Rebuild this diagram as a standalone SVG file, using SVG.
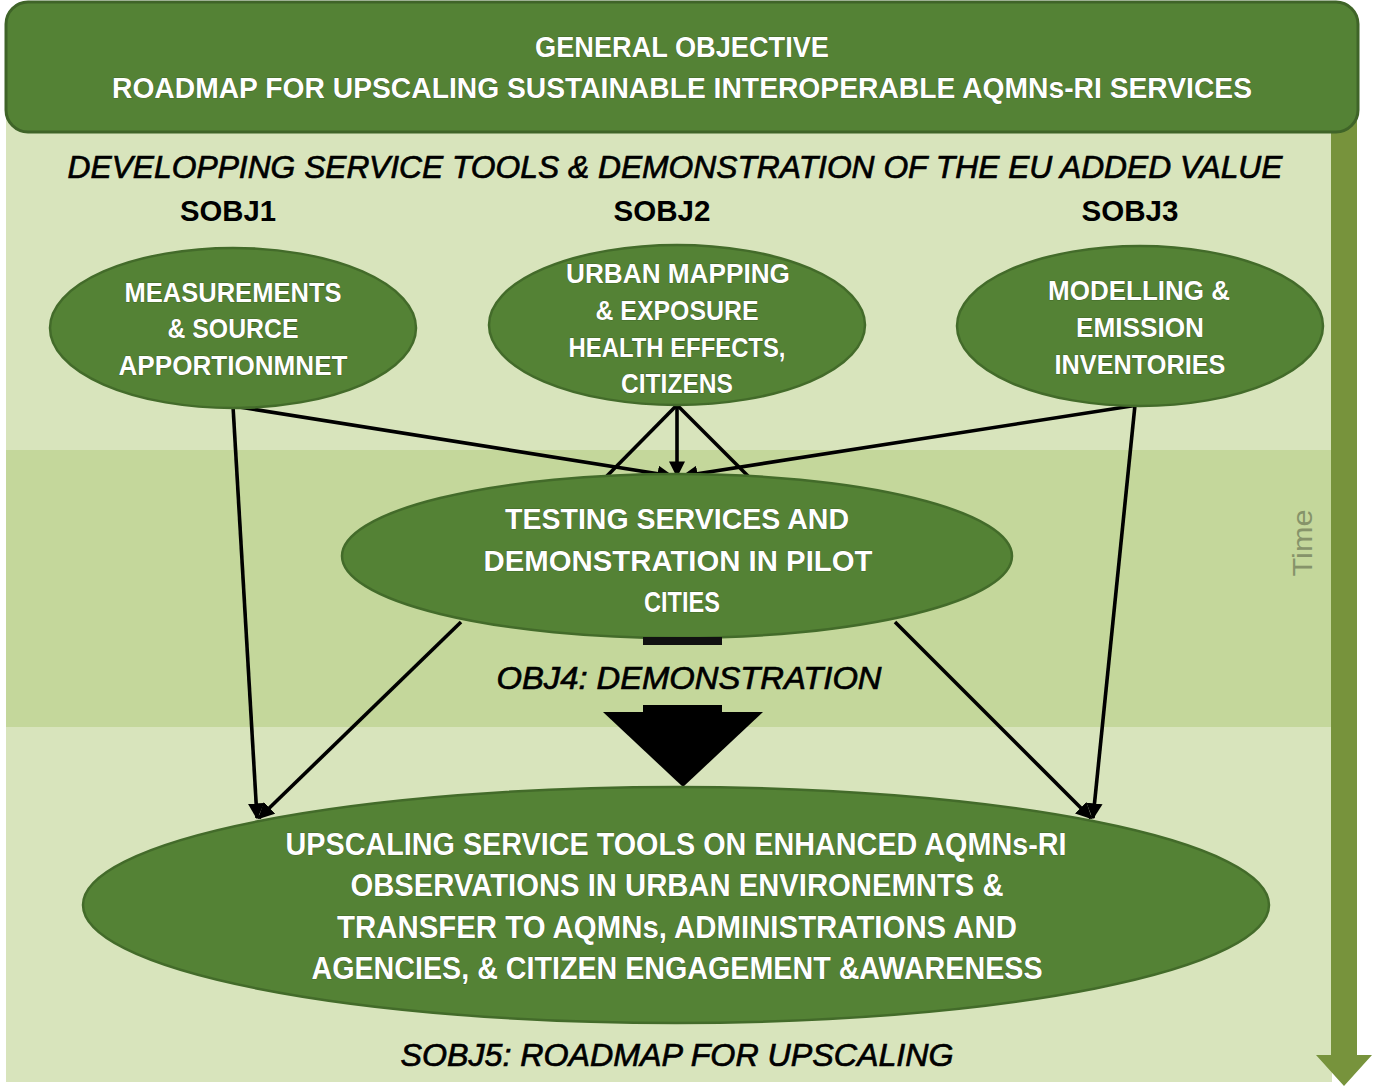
<svg xmlns="http://www.w3.org/2000/svg" width="1376" height="1087" viewBox="0 0 1376 1087">
<defs>
<style>
.node{fill:#548235;stroke:#436b2a;stroke-width:2.5}
.wt{font-family:"Liberation Sans",Arial,sans-serif;font-weight:bold;fill:#ffffff;text-anchor:middle;stroke:#2f4a1e;stroke-width:0.6;paint-order:stroke}
.bk{font-family:"Liberation Sans",Arial,sans-serif;font-weight:bold;fill:#000000;text-anchor:middle}
.it{font-family:"Liberation Sans",Arial,sans-serif;font-style:italic;fill:#000000;text-anchor:middle;stroke:#000;stroke-width:0.7}
.c{stroke:#000;stroke-width:3.6;fill:none}
.ca{stroke:#000;stroke-width:3.6;fill:none;marker-end:url(#ah)}
</style>
<marker id="ah" viewBox="0 0 10 10" refX="9" refY="5" markerWidth="4.5" markerHeight="4.5" orient="auto" markerUnits="strokeWidth">
<path d="M0,0 L10,5 L0,10 z" fill="#000"/>
</marker>
</defs>

<g id="background">
<rect x="6" y="110" width="1326" height="340" fill="#d8e4bc"/>
<rect x="6" y="450" width="1326" height="277" fill="#c4d79b"/>
<rect x="6" y="727" width="1326" height="355" fill="#d8e4bc"/>
</g>

<g id="time-arrow">
<polygon points="1331,120 1357,120 1357,1055 1372,1055 1344,1086 1316,1055 1331,1055" fill="#77933c"/>
<text x="0" y="0" transform="translate(1312,543) rotate(-90)" font-family="'Liberation Sans',Arial,sans-serif" font-size="27" fill="#86936a" text-anchor="middle" textLength="67" lengthAdjust="spacingAndGlyphs">Time</text>
</g>

<g id="general-objective">
<rect x="6" y="2" width="1352" height="130" rx="22" ry="22" fill="#548235" stroke="#3f6428" stroke-width="3"/>
<text class="wt" x="682" y="57" font-size="29" textLength="294" lengthAdjust="spacingAndGlyphs">GENERAL OBJECTIVE</text>
<text class="wt" x="682" y="98" font-size="29" textLength="1140" lengthAdjust="spacingAndGlyphs">ROADMAP FOR UPSCALING SUSTAINABLE INTEROPERABLE AQMNs-RI SERVICES</text>
</g>

<g id="headers">
<text class="it" x="675" y="178" font-size="32" textLength="1215" lengthAdjust="spacingAndGlyphs">DEVELOPPING SERVICE TOOLS &amp; DEMONSTRATION OF THE EU ADDED VALUE</text>
<text class="bk" x="228" y="221" font-size="29" textLength="96" lengthAdjust="spacingAndGlyphs">SOBJ1</text>
<text class="bk" x="662" y="221" font-size="29" textLength="97" lengthAdjust="spacingAndGlyphs">SOBJ2</text>
<text class="bk" x="1130" y="221" font-size="29" textLength="97" lengthAdjust="spacingAndGlyphs">SOBJ3</text>
</g>

<g id="connectors">
<line class="ca" x1="233" y1="406" x2="257" y2="818"/>
<line class="ca" x1="233" y1="406" x2="672" y2="476"/>
<line class="ca" x1="677" y1="405" x2="677" y2="476"/>
<line class="c" x1="677" y1="405" x2="603" y2="480"/>
<line class="c" x1="677" y1="405" x2="752" y2="480"/>
<line class="ca" x1="1138" y1="405" x2="683" y2="476"/>
<line class="ca" x1="1135" y1="405" x2="1093" y2="818"/>
<line class="ca" x1="461" y1="622" x2="259" y2="818"/>
<line class="ca" x1="895" y1="622" x2="1091" y2="818"/>
</g>

<g id="sobj1">
<ellipse class="node" cx="233" cy="328" rx="183" ry="80"/>
<text class="wt" x="233" y="302" font-size="27" textLength="217" lengthAdjust="spacingAndGlyphs">MEASUREMENTS</text>
<text class="wt" x="233" y="338" font-size="27" textLength="131" lengthAdjust="spacingAndGlyphs">&amp; SOURCE</text>
<text class="wt" x="233" y="375" font-size="27" textLength="229" lengthAdjust="spacingAndGlyphs">APPORTIONMNET</text>
</g>

<g id="sobj2">
<ellipse class="node" cx="677" cy="325" rx="188" ry="80"/>
<text class="wt" x="678" y="283" font-size="27" textLength="224" lengthAdjust="spacingAndGlyphs">URBAN MAPPING</text>
<text class="wt" x="677" y="320" font-size="27" textLength="163" lengthAdjust="spacingAndGlyphs">&amp; EXPOSURE</text>
<text class="wt" x="677" y="357" font-size="27" textLength="217" lengthAdjust="spacingAndGlyphs">HEALTH EFFECTS,</text>
<text class="wt" x="677" y="393" font-size="27" textLength="112" lengthAdjust="spacingAndGlyphs">CITIZENS</text>
</g>

<g id="sobj3">
<ellipse class="node" cx="1140" cy="326" rx="183" ry="80"/>
<text class="wt" x="1139" y="300" font-size="27" textLength="182" lengthAdjust="spacingAndGlyphs">MODELLING &amp;</text>
<text class="wt" x="1140" y="337" font-size="27" textLength="128" lengthAdjust="spacingAndGlyphs">EMISSION</text>
<text class="wt" x="1140" y="374" font-size="27" textLength="171" lengthAdjust="spacingAndGlyphs">INVENTORIES</text>
</g>

<g id="testing">
<ellipse class="node" cx="677" cy="556" rx="335" ry="82"/>
<text class="wt" x="677" y="529" font-size="30" textLength="344" lengthAdjust="spacingAndGlyphs">TESTING SERVICES  AND</text>
<text class="wt" x="678" y="571" font-size="30" textLength="389" lengthAdjust="spacingAndGlyphs">DEMONSTRATION IN PILOT</text>
<text class="wt" x="682" y="612" font-size="30" textLength="76" lengthAdjust="spacingAndGlyphs">CITIES</text>
</g>

<g id="demonstration">
<rect x="643" y="637" width="79" height="8" fill="#111"/>
<text class="it" x="689" y="689" font-size="32" textLength="385" lengthAdjust="spacingAndGlyphs">OBJ4: DEMONSTRATION</text>
<rect x="643" y="705" width="79" height="8" fill="#000"/>
<polygon points="603,712 763,712 683,787" fill="#000"/>
</g>

<g id="upscaling">
<ellipse class="node" cx="676" cy="905" rx="593" ry="118"/>
<text class="wt" x="676" y="855" font-size="31" textLength="781" lengthAdjust="spacingAndGlyphs">UPSCALING  SERVICE TOOLS ON ENHANCED AQMNs-RI</text>
<text class="wt" x="677" y="896" font-size="31" textLength="653" lengthAdjust="spacingAndGlyphs">OBSERVATIONS IN URBAN ENVIRONEMNTS &amp;</text>
<text class="wt" x="677" y="938" font-size="31" textLength="680" lengthAdjust="spacingAndGlyphs">TRANSFER TO AQMNs, ADMINISTRATIONS AND</text>
<text class="wt" x="677" y="979" font-size="31" textLength="731" lengthAdjust="spacingAndGlyphs">AGENCIES, &amp; CITIZEN ENGAGEMENT &amp;AWARENESS</text>
</g>

<g id="sobj5">
<text class="it" x="677" y="1066" font-size="32" textLength="553" lengthAdjust="spacingAndGlyphs">SOBJ5: ROADMAP FOR UPSCALING</text>
</g>
</svg>
